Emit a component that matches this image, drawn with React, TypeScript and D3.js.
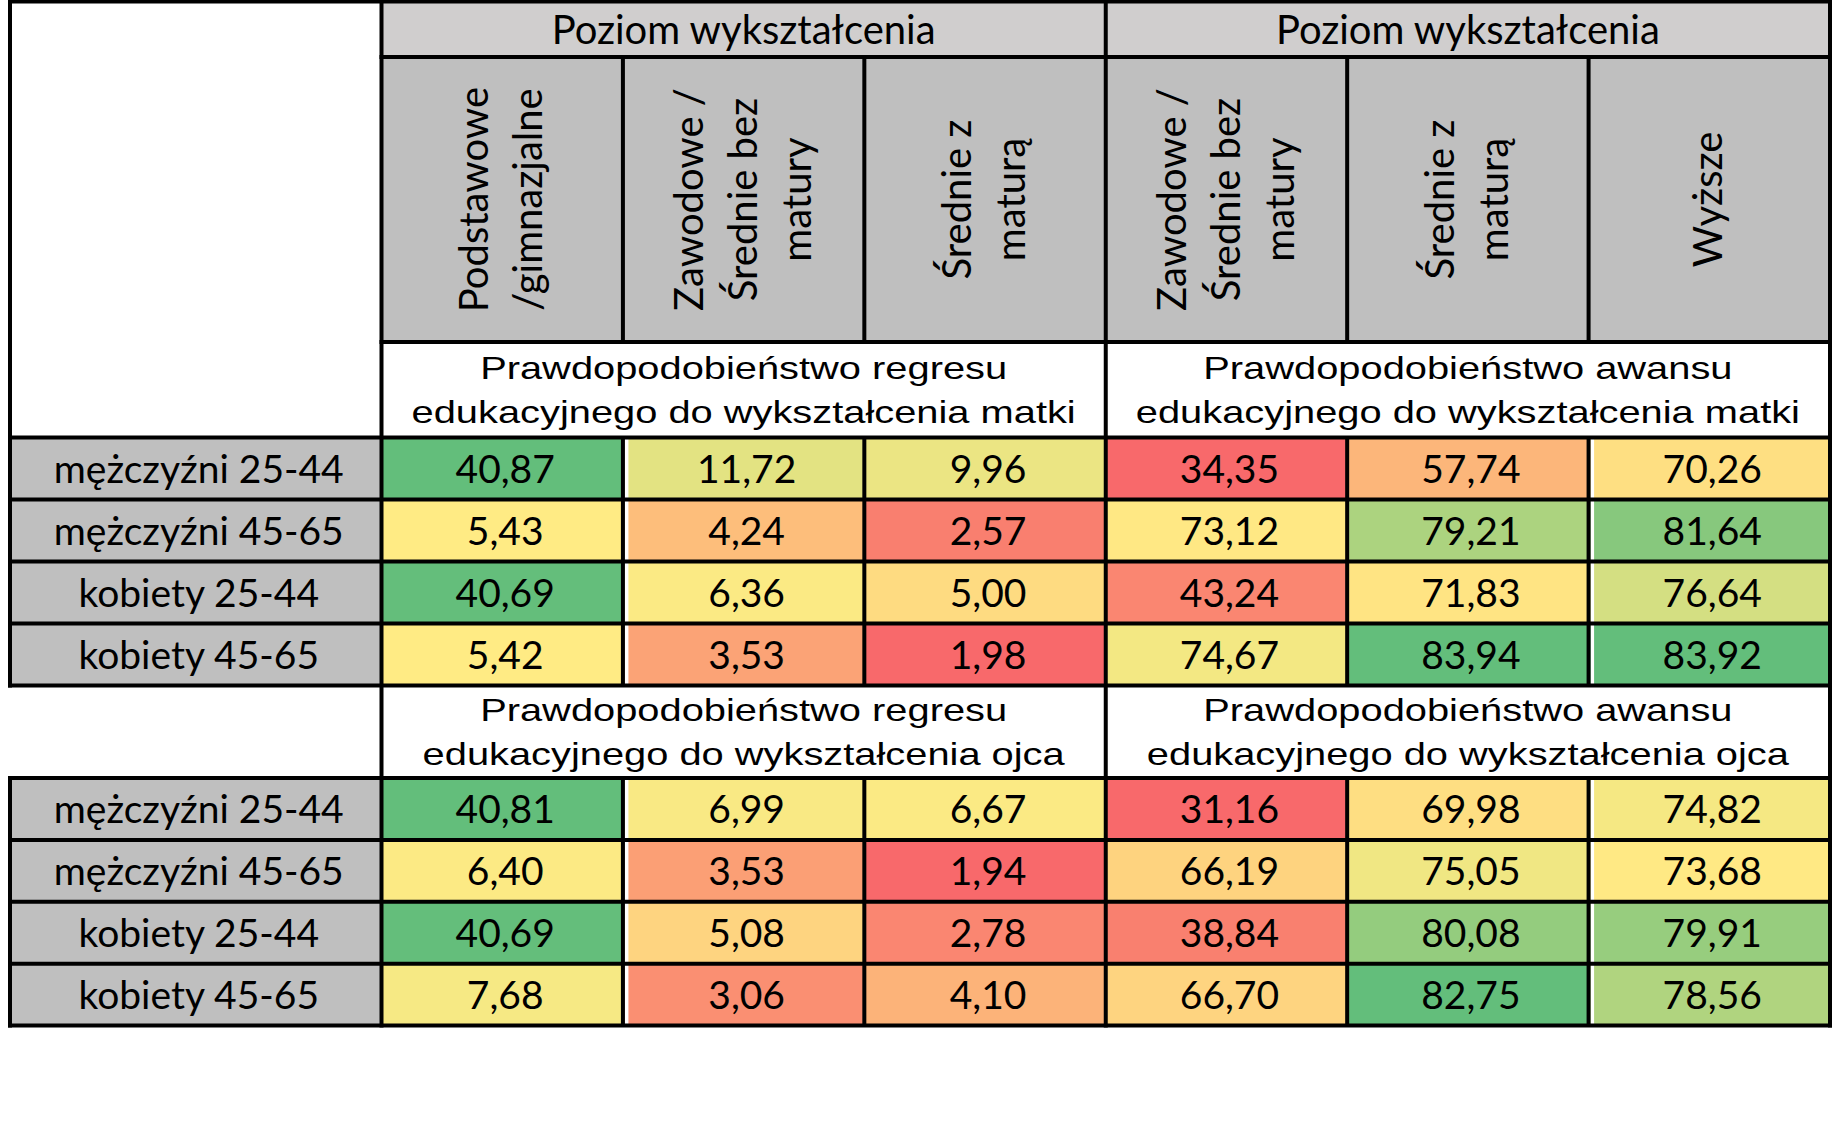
import React from "react";
import * as d3 from "d3";

// ---------- data ----------
const groupHeader = "Poziom wykształcenia";
const rowLabels = ["mężczyźni 25-44", "mężczyźni 45-65", "kobiety 25-44", "kobiety 45-65"];
const regressColumns = [["Podstawowe", "/gimnazjalne"], ["Zawodowe /", "Średnie bez", "matury"], ["Średnie z", "maturą"]];
const advanceColumns = [["Zawodowe /", "Średnie bez", "matury"], ["Średnie z", "maturą"], ["Wyższe"]];
const subtitleRegressMother = ["Prawdopodobieństwo regresu", "edukacyjnego do wykształcenia matki"];
const subtitleAdvanceMother = ["Prawdopodobieństwo awansu", "edukacyjnego do wykształcenia matki"];
const subtitleRegressFather = ["Prawdopodobieństwo regresu", "edukacyjnego do wykształcenia ojca"];
const subtitleAdvanceFather = ["Prawdopodobieństwo awansu", "edukacyjnego do wykształcenia ojca"];
const motherRegress = [[40.87, 11.72, 9.96], [5.43, 4.24, 2.57], [40.69, 6.36, 5.0], [5.42, 3.53, 1.98]];
const motherAdvance = [[34.35, 57.74, 70.26], [73.12, 79.21, 81.64], [43.24, 71.83, 76.64], [74.67, 83.94, 83.92]];
const fatherRegress = [[40.81, 6.99, 6.67], [6.4, 3.53, 1.94], [40.69, 5.08, 2.78], [7.68, 3.06, 4.1]];
const fatherAdvance = [[31.16, 69.98, 74.82], [66.19, 75.05, 73.68], [38.84, 80.08, 79.91], [66.7, 82.75, 78.56]];

// ---------- style ----------
const W = 1848, H = 1136;
const LW = 4;
const CAL = "Lato, 'Open Sans', sans-serif";
const ARIAL = "'Liberation Sans', Arial, sans-serif";
const RED = "#F8696B", YEL = "#FFEB84", GRN = "#63BE7B";
const HEAD1 = "#D0CECE", HEAD2 = "#BFBFBF";

const fmt = d3.formatLocale({ decimal: ",", thousands: " ", grouping: [3], currency: ["", ""] }).format(".2f");

function colorScale(m: number[][]) {
  const vals = m.flat().sort(d3.ascending);
  return d3.scaleLinear<string>()
    .domain([d3.min(vals)!, d3.quantile(vals, 0.5)!, d3.max(vals)!])
    .range([RED, YEL, GRN])
    .interpolate(d3.interpolateRgb);
}

export default function App() {
  const xLeft = 10, xLab = 381.5, xRight = 1830;
  const yTop = 1.5, yPoz = 57, yRot = 342;
  const x = d3.scaleBand<number>().domain(d3.range(6)).range([xLab, xRight]);
  const bw = x.bandwidth();
  const columns = [...regressColumns, ...advanceColumns];

  const blocks = [
    { subTop: 342, dataTop: 437.5, dataBottom: 685.5, subs: [subtitleRegressMother, subtitleAdvanceMother], mats: [motherRegress, motherAdvance] },
    { subTop: 685.5, dataTop: 778, dataBottom: 1025.5, subs: [subtitleRegressFather, subtitleAdvanceFather], mats: [fatherRegress, fatherAdvance] },
  ];

  const lines: JSX.Element[] = [];
  const L = (x1: number, y1: number, x2: number, y2: number) =>
    lines.push(<line key={lines.length} x1={x1} y1={y1} x2={x2} y2={y2} stroke="#000" strokeWidth={LW} strokeLinecap="square" />);

  // outer / structural lines
  L(xLeft, yTop, xRight, yTop);
  L(xRight, yTop, xRight, 1025.5);
  L(xLab, yTop, xLab, 1025.5);
  L(xLeft, yTop, xLeft, 685.5);
  L(xLeft, 778, xLeft, 1025.5);
  L(xLab, yPoz, xRight, yPoz);
  L(xLab, yRot, xRight, yRot);
  L(x(3)!, yTop, x(3)!, 1025.5);
  [1, 2, 4, 5].forEach((i) => L(x(i)!, yPoz, x(i)!, yRot));

  const fsNum = 39, fsHead = 40, fsSub = 32;

  return (
    <svg width={W} height={H} style={{ position: "absolute", left: 0, top: 0, background: "#fff" }}>
      <rect width={W} height={H} fill="#fff" />
      {/* group header */}
      {[0, 3].map((i) => (
        <g key={"gh" + i}>
          <rect x={x(i)!} y={yTop} width={bw * 3} height={yPoz - yTop} fill={HEAD1} />
          <text x={x(i)! + bw * 1.5} y={(yTop + yPoz) / 2 + 0.36 * fsHead} textAnchor="middle" fontFamily={CAL} fontSize={fsHead}>{groupHeader}</text>
        </g>
      ))}
      {/* rotated column headers */}
      {columns.map((c, i) => {
        const cx = x(i)! + bw / 2, cy = (yPoz + yRot) / 2;
        return (
          <g key={"ch" + i}>
            <rect x={x(i)!} y={yPoz} width={bw} height={yRot - yPoz} fill={HEAD2} />
            <g transform={`translate(${cx},${cy}) rotate(-90)`}>
              {c.map((t, k) => (
                <text key={k} x={0} y={(k - (c.length - 1) / 2) * 54 + 0.33 * fsHead} textAnchor="middle" fontFamily={CAL} fontSize={fsHead}>{t}</text>
              ))}
            </g>
          </g>
        );
      })}
      {blocks.map((b, bi) => {
        const y = d3.scaleBand<number>().domain(d3.range(rowLabels.length)).range([b.dataTop, b.dataBottom]);
        const bh = y.bandwidth();
        const subC = (b.subTop + b.dataTop) / 2;
        return (
          <g key={"b" + bi}>
            {/* subtitles */}
            {b.subs.map((s, si) => (
              <g key={"s" + si}>
                {s.map((t, k) => (
                  <text key={k} transform={`translate(${x(si * 3)! + bw * 1.5},${subC + (k === 0 ? -11 : 33.5)}) scale(1.245,1)`} textAnchor="middle" fontFamily={ARIAL} fontSize={fsSub}>{t}</text>
                ))}
              </g>
            ))}
            {/* row labels */}
            {rowLabels.map((r, ri) => (
              <g key={"r" + ri}>
                <rect x={xLeft} y={y(ri)!} width={xLab - xLeft} height={bh} fill={HEAD2} />
                <text x={(xLeft + xLab) / 2 + 3} y={y(ri)! + bh / 2 + 0.36 * fsNum} textAnchor="middle" fontFamily={CAL} fontSize={fsNum}>{r}</text>
              </g>
            ))}
            {/* cells */}
            {b.mats.map((m, mi) => {
              const col = colorScale(m);
              return m.map((row, ri) =>
                row.map((v, ci) => {
                  const i = mi * 3 + ci;
                  return (
                    <g key={`c${mi}-${ri}-${ci}`}>
                      <rect x={x(i)!} y={y(ri)!} width={bw} height={bh} fill={col(v)} />
                      <text x={x(i)! + bw / 2 + 3} y={y(ri)! + bh / 2 + 0.36 * fsNum} textAnchor="middle" fontFamily={CAL} fontSize={fsNum}>{fmt(v)}</text>
                    </g>
                  );
                })
              );
            })}
            {/* white stripes */}
            {[1, 5].map((i) => (
              <rect key={"w" + i} x={x(i)! + LW / 2} y={b.dataTop} width={3.5} height={b.dataBottom - b.dataTop} fill="#fff" />
            ))}
            {/* grid lines */}
            {d3.range(rowLabels.length + 1).map((k) => {
              const yy = k < rowLabels.length ? y(k)! : b.dataBottom;
              return <line key={"h" + k} x1={xLeft} x2={xRight} y1={yy} y2={yy} stroke="#000" strokeWidth={LW} strokeLinecap="square" />;
            })}
            {[1, 2, 4, 5].map((i) => (
              <line key={"v" + i} x1={x(i)!} x2={x(i)!} y1={b.dataTop} y2={b.dataBottom} stroke="#000" strokeWidth={LW} />
            ))}
          </g>
        );
      })}
      {lines}
    </svg>
  );
}
